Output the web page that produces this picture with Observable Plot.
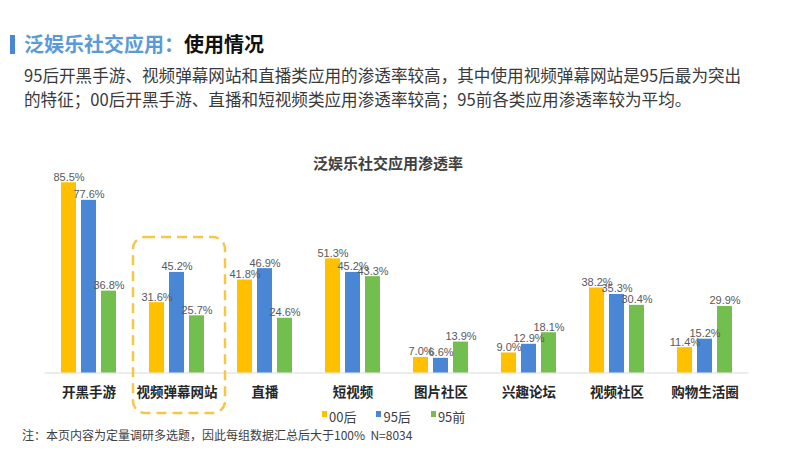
<!DOCTYPE html>
<html><head><meta charset="utf-8">
<script src="https://cdn.jsdelivr.net/npm/d3@7"></script>
<script src="https://cdn.jsdelivr.net/npm/@observablehq/plot@0.6"></script>
<style>
body{margin:0;background:#fff;font-family:"Noto Sans CJK SC","Noto Sans",sans-serif;}
#wrap{position:relative;width:800px;height:450px;overflow:hidden;background:#fff;}
.tbar{position:absolute;left:10px;top:35px;width:5px;height:19px;background:#4A86D6;}
.title{position:absolute;left:24px;top:29px;font-size:20px;font-weight:bold;line-height:30px;white-space:nowrap;}
.title .t1{color:#5B9BD5;}
.title .t2{color:#111;}
.sub{position:absolute;left:24px;top:63px;font-size:16.6px;line-height:24px;color:#3a3a3a;white-space:nowrap;}
.ctitle{position:absolute;left:0;width:776px;top:152px;text-align:center;font-size:15px;font-weight:bold;color:#404040;line-height:22px;}
#chart{position:absolute;left:0;top:140px;}
.legend{position:absolute;left:322px;top:408px;display:flex;font-size:13px;color:#404040;line-height:18px;}
.legend .it{display:flex;align-items:center;margin-right:20px;}
.legend .sw{width:5px;height:6px;margin-right:2px;margin-top:-6px;}
.note{position:absolute;left:22px;top:426px;font-size:12px;color:#404040;line-height:18px;white-space:nowrap;}
</style></head><body>
<div id="wrap">
  <div class="tbar"></div>
  <div class="title"><span class="t1">泛娱乐社交应用：</span><span class="t2">使用情况</span></div>
  <div class="sub">95后开黑手游、视频弹幕网站和直播类应用的渗透率较高，其中使用视频弹幕网站是95后最为突出<br>的特征；00后开黑手游、直播和短视频类应用渗透率较高；95前各类应用渗透率较为平均。</div>
  <div class="ctitle">泛娱乐社交应用渗透率</div>
  <div id="chart"></div>
  <div class="legend" id="legend"></div>
  <div class="note">注：本页内容为定量调研多选题，因此每组数据汇总后大于100%&nbsp;&nbsp;N=8034</div>
</div>
<script>
const categories = ["开黑手游","视频弹幕网站","直播","短视频","图片社区","兴趣论坛","视频社区","购物生活圈"];
const seriesNames = ["00后","95后","95前"];
const values00 = [85.5,31.6,41.8,51.3,7.0,9.0,38.2,11.4];
const values95h = [77.6,45.2,46.9,45.2,6.6,12.9,35.3,15.2];
const values95q = [36.8,25.7,24.6,43.3,13.9,18.1,30.4,29.9];
const colors = ["#FFC000","#4A86D6","#72BF4F"];
const highlighted = ["视频弹幕网站"];

const seriesValues = [values00, values95h, values95q];
const data = [];
categories.forEach((c, i) => {
  seriesNames.forEach((s, j) => data.push({cat: c, series: s, value: seriesValues[j][i]}));
});

const chart = Plot.plot({
  width: 800,
  height: 280,
  marginTop: 10,
  marginBottom: 47.5,
  marginLeft: 44,
  marginRight: 52,
  style: {fontFamily: '"Noto Sans CJK SC", sans-serif', background: "transparent", overflow: "visible"},
  fx: {domain: categories, paddingInner: 0.375, paddingOuter: 0.1875, label: null, axis: null},
  x: {domain: seriesNames, paddingInner: 0.25, paddingOuter: 0, axis: null},
  y: {domain: [0, 100], axis: null},
  color: {domain: seriesNames, range: colors},
  marks: [
    Plot.ruleY([0], {stroke: "#d9d9d9", strokeWidth: 1, insetLeft: -16.5, insetRight: -16.5}),
    Plot.barY(data, {fx: "cat", x: "series", y: "value", fill: "series"}),
    Plot.text(data, {fx: "cat", x: "series", y: "value", text: d => d.value.toFixed(1) + "%",
      lineAnchor: "bottom", dy: -2, fill: "#595959", fontSize: 11, fontFamily: '"Liberation Sans", Arial, sans-serif'}),
    Plot.axisFx({anchor: "bottom", tickSize: 0, tickPadding: 14, fontSize: 13.5, fontWeight: "bold", fill: "#262626", label: null}),
    Plot.rect(highlighted, {fx: d => d, fill: "none", stroke: "#F6C744", strokeWidth: 2.5, strokeDasharray: "10,6",
      rx: 12, insetLeft: -16, insetRight: -21, insetTop: 87, insetBottom: -40.5})
  ]
});
document.getElementById("chart").appendChild(chart);

const legend = document.getElementById("legend");
seriesNames.forEach((s, j) => {
  const it = document.createElement("div");
  it.className = "it";
  it.innerHTML = `<span class="sw" style="background:${colors[j]}"></span><span>${s}</span>`;
  legend.appendChild(it);
});
</script>
</body></html>
